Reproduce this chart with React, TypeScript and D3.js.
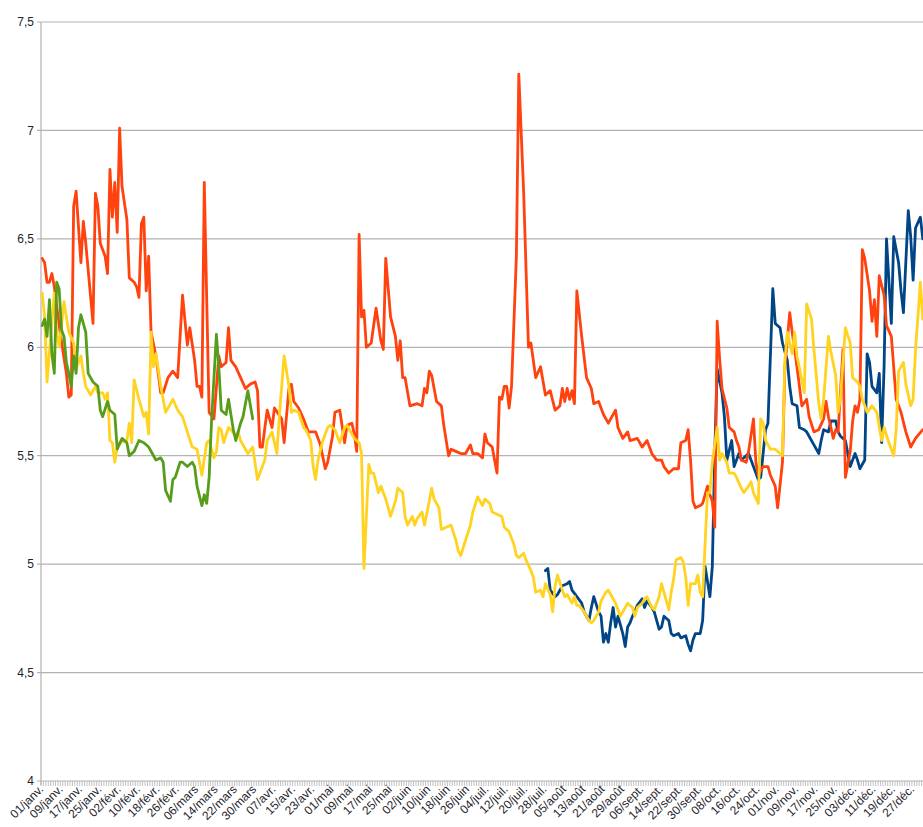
import React from "react";
import * as d3 from "d3";

const width = 923;
const height = 827;
// plot box in page pixels (the svg is pinned to the page corner)
const plot = { left: 41, right: 924, top: 22, bottom: 781 };

const year = 2023;
const dayCount = 365;
const labelStep = 8;
const monthNames = ["janv.", "févr.", "mars", "avr.", "mai", "juin", "juil.", "août", "sept.", "oct.", "nov.", "déc."];
const yTicks = [4, 4.5, 5, 5.5, 6, 6.5, 7, 7.5];

// blue series (starts late July)
const blueDays = [208, 209, 210, 212, 213, 215, 217, 218, 219, 221, 223, 224, 226, 227, 228, 230, 231, 232, 233, 234, 235, 236, 237, 238, 240, 241, 242, 243, 244, 245, 246, 248, 249, 250, 252, 253, 255, 256, 257, 259, 260, 261, 263, 264, 266, 267, 268, 269, 270, 272, 273, 274, 276, 277, 278, 279, 281, 282, 283, 285, 286, 288, 289, 292, 294, 296, 297, 299, 300, 302, 303, 305, 306, 308, 309, 310, 312, 313, 315, 316, 317, 319, 321, 322, 323, 325, 326, 328, 329, 330, 332, 333, 334, 336, 337, 338, 340, 341, 342, 343, 345, 346, 347, 348, 349, 351, 352, 354, 355, 356, 358, 359, 360, 361, 363, 364];
const blueValues = [4.97, 4.98, 4.88, 4.85, 4.86, 4.9, 4.91, 4.92, 4.88, 4.85, 4.82, 4.78, 4.74, 4.8, 4.85, 4.78, 4.76, 4.64, 4.68, 4.64, 4.73, 4.8, 4.71, 4.76, 4.68, 4.62, 4.71, 4.73, 4.76, 4.78, 4.81, 4.84, 4.8, 4.83, 4.8, 4.78, 4.7, 4.71, 4.76, 4.74, 4.68, 4.67, 4.68, 4.66, 4.67, 4.63, 4.6, 4.65, 4.68, 4.68, 4.74, 4.99, 4.85, 4.99, 5.51, 5.9, 5.79, 5.68, 5.48, 5.57, 5.45, 5.51, 5.48, 5.51, 5.45, 5.39, 5.4, 5.62, 5.65, 6.27, 6.11, 6.09, 6.02, 5.94, 5.82, 5.74, 5.73, 5.63, 5.62, 5.61, 5.59, 5.55, 5.51, 5.57, 5.62, 5.61, 5.66, 5.66, 5.61, 5.59, 5.57, 5.51, 5.45, 5.51, 5.48, 5.44, 5.48, 5.97, 5.93, 5.82, 5.79, 5.88, 5.56, 5.91, 6.5, 6.11, 6.51, 6.39, 6.26, 6.16, 6.63, 6.51, 6.31, 6.55, 6.6, 6.5];

// orange series (whole year)
const orangeDays = [0, 1, 2, 3, 4, 5, 7, 9, 10, 11, 12, 13, 14, 16, 17, 18, 21, 22, 23, 24, 26, 27, 28, 29, 30, 31, 32, 33, 35, 36, 38, 39, 40, 41, 42, 43, 44, 45, 47, 49, 50, 52, 54, 56, 58, 60, 61, 63, 64, 65, 66, 67, 68, 69, 71, 73, 74, 76, 77, 78, 80, 82, 84, 86, 88, 89, 90, 91, 93, 95, 96, 99, 100, 102, 103, 104, 106, 108, 110, 113, 115, 117, 118, 120, 121, 123, 125, 126, 128, 129, 130, 131, 132, 133, 134, 136, 138, 140, 141, 142, 144, 146, 147, 148, 149, 150, 152, 155, 157, 158, 159, 160, 161, 163, 165, 166, 168, 169, 171, 173, 175, 177, 178, 180, 182, 183, 184, 186, 188, 189, 190, 191, 192, 193, 194, 196, 197, 199, 201, 202, 204, 206, 208, 210, 212, 214, 215, 216, 217, 218, 219, 220, 221, 223, 225, 227, 228, 230, 232, 234, 237, 238, 240, 242, 243, 246, 248, 250, 252, 254, 256, 257, 259, 261, 263, 264, 266, 267, 268, 269, 270, 272, 273, 275, 276, 277, 278, 279, 280, 281, 283, 284, 286, 287, 288, 289, 291, 292, 294, 295, 296, 298, 300, 301, 303, 304, 306, 307, 309, 310, 312, 313, 314, 316, 317, 319, 321, 323, 324, 325, 327, 328, 329, 331, 332, 334, 335, 336, 337, 338, 339, 340, 342, 343, 344, 345, 346, 348, 349, 351, 353, 355, 357, 359, 361, 364];
const orangeValues = [6.41, 6.39, 6.3, 6.3, 6.34, 6.28, 6.1, 5.95, 5.88, 5.77, 5.78, 6.65, 6.72, 6.39, 6.58, 6.48, 6.11, 6.71, 6.65, 6.48, 6.42, 6.34, 6.82, 6.6, 6.76, 6.53, 7.01, 6.74, 6.59, 6.32, 6.3, 6.28, 6.23, 6.57, 6.6, 6.26, 6.42, 6.07, 5.96, 5.79, 5.79, 5.86, 5.89, 5.86, 6.24, 6.01, 6.09, 5.94, 5.82, 5.82, 5.77, 6.76, 6.22, 5.7, 5.67, 5.96, 5.91, 5.93, 6.09, 5.94, 5.91, 5.86, 5.81, 5.83, 5.84, 5.8, 5.54, 5.54, 5.71, 5.63, 5.72, 5.67, 5.56, 5.81, 5.83, 5.75, 5.72, 5.67, 5.61, 5.61, 5.55, 5.44, 5.47, 5.59, 5.7, 5.71, 5.56, 5.64, 5.65, 5.6, 5.52, 6.52, 6.14, 6.17, 6.0, 6.02, 6.18, 6.03, 5.99, 6.41, 6.14, 6.05, 5.94, 6.03, 5.86, 5.86, 5.73, 5.74, 5.73, 5.81, 5.79, 5.89, 5.87, 5.75, 5.73, 5.64, 5.5, 5.53, 5.52, 5.51, 5.51, 5.55, 5.51, 5.51, 5.49, 5.6, 5.56, 5.54, 5.42, 5.77, 5.76, 5.82, 5.82, 5.72, 5.82, 6.42, 7.26, 6.72, 6.0, 6.02, 5.86, 5.91, 5.78, 5.8, 5.71, 5.73, 5.81, 5.75, 5.81, 5.76, 5.8, 5.74, 6.26, 6.05, 5.86, 5.81, 5.74, 5.75, 5.69, 5.65, 5.71, 5.63, 5.58, 5.61, 5.57, 5.58, 5.54, 5.57, 5.51, 5.48, 5.48, 5.45, 5.42, 5.44, 5.44, 5.56, 5.57, 5.62, 5.48, 5.29, 5.26, 5.27, 5.28, 5.36, 5.32, 5.29, 5.17, 6.12, 5.95, 5.81, 5.72, 5.63, 5.61, 5.57, 5.54, 5.48, 5.47, 5.52, 5.67, 5.47, 5.41, 5.45, 5.45, 5.41, 5.36, 5.26, 5.47, 5.91, 6.16, 6.07, 5.91, 5.82, 5.73, 5.76, 5.68, 5.61, 5.62, 5.67, 5.75, 5.68, 5.58, 5.62, 5.61, 5.99, 5.4, 5.52, 5.66, 5.73, 5.7, 5.76, 6.45, 6.41, 6.26, 6.12, 6.22, 6.05, 6.33, 6.24, 6.1, 6.05, 5.76, 5.7, 5.61, 5.54, 5.58, 5.62];

// yellow series (whole year)
const yellowDays = [0, 1, 2, 4, 5, 6, 7, 9, 10, 11, 13, 14, 16, 17, 18, 20, 22, 23, 25, 26, 27, 28, 29, 30, 31, 32, 35, 36, 37, 38, 40, 42, 43, 44, 45, 46, 47, 49, 51, 54, 56, 58, 60, 62, 64, 66, 68, 69, 71, 72, 73, 74, 75, 77, 78, 80, 81, 82, 85, 87, 89, 90, 92, 93, 95, 96, 97, 98, 100, 102, 103, 104, 106, 108, 109, 111, 112, 113, 114, 116, 118, 119, 121, 123, 125, 126, 129, 131, 132, 133, 135, 136, 137, 139, 140, 142, 144, 146, 147, 149, 150, 151, 153, 154, 155, 157, 158, 160, 161, 162, 164, 165, 167, 169, 171, 172, 173, 175, 177, 178, 180, 182, 183, 185, 186, 188, 190, 191, 193, 195, 196, 197, 199, 200, 202, 203, 204, 206, 207, 208, 210, 211, 212, 213, 215, 216, 217, 219, 220, 221, 222, 224, 226, 227, 228, 230, 231, 233, 234, 235, 237, 238, 239, 241, 242, 244, 245, 246, 248, 249, 250, 252, 253, 255, 256, 257, 259, 260, 261, 262, 264, 265, 266, 267, 268, 270, 271, 272, 273, 275, 276, 277, 279, 280, 281, 283, 284, 286, 287, 289, 290, 292, 293, 294, 296, 297, 298, 299, 301, 303, 305, 306, 307, 308, 310, 311, 312, 314, 315, 316, 318, 319, 321, 322, 323, 325, 326, 328, 329, 330, 332, 334, 335, 337, 338, 339, 341, 343, 345, 347, 348, 350, 352, 353, 354, 356, 357, 359, 360, 361, 363, 364];
const yellowValues = [6.25, 6.14, 5.84, 6.11, 6.25, 6.07, 6.0, 6.21, 6.14, 6.07, 6.02, 5.9, 5.96, 5.88, 5.82, 5.78, 5.82, 5.79, 5.79, 5.76, 5.79, 5.57, 5.56, 5.47, 5.54, 5.56, 5.57, 5.65, 5.56, 5.85, 5.76, 5.68, 5.7, 5.6, 6.07, 5.91, 5.97, 5.82, 5.7, 5.76, 5.71, 5.68, 5.61, 5.54, 5.53, 5.41, 5.56, 5.57, 5.49, 5.52, 5.63, 5.62, 5.56, 5.63, 5.62, 5.59, 5.61, 5.57, 5.51, 5.54, 5.39, 5.42, 5.48, 5.57, 5.61, 5.56, 5.51, 5.68, 5.96, 5.82, 5.7, 5.71, 5.7, 5.63, 5.62, 5.57, 5.45, 5.39, 5.48, 5.57, 5.63, 5.64, 5.62, 5.56, 5.63, 5.64, 5.58, 5.56, 5.51, 4.98, 5.46, 5.42, 5.42, 5.33, 5.36, 5.3, 5.22, 5.29, 5.35, 5.33, 5.22, 5.18, 5.22, 5.18, 5.21, 5.24, 5.18, 5.29, 5.35, 5.3, 5.26, 5.16, 5.17, 5.18, 5.11, 5.06, 5.04, 5.11, 5.18, 5.24, 5.31, 5.27, 5.3, 5.28, 5.24, 5.23, 5.22, 5.17, 5.15, 5.09, 5.04, 5.03, 5.05, 5.02, 4.97, 4.94, 4.87, 4.88, 4.85, 4.91, 4.86, 4.78, 4.9, 4.95, 4.88, 4.85, 4.86, 4.82, 4.85, 4.81, 4.81, 4.78, 4.74, 4.73, 4.74, 4.78, 4.83, 4.87, 4.88, 4.86, 4.82, 4.79, 4.76, 4.8, 4.82, 4.8, 4.76, 4.8, 4.82, 4.84, 4.85, 4.8, 4.79, 4.85, 4.91, 4.87, 4.79, 4.87, 4.93, 5.02, 5.03, 5.01, 4.94, 4.81, 4.91, 4.91, 4.95, 4.87, 4.85, 5.33, 5.33, 5.47, 5.63, 5.48, 5.51, 5.47, 5.42, 5.42, 5.4, 5.35, 5.33, 5.36, 5.38, 5.33, 5.28, 5.67, 5.65, 5.57, 5.53, 5.53, 5.51, 5.5, 5.94, 6.07, 5.97, 6.07, 5.96, 5.85, 5.79, 6.2, 6.13, 5.99, 5.74, 5.67, 5.76, 6.05, 5.98, 5.87, 5.7, 5.77, 6.09, 6.02, 5.86, 5.84, 5.82, 5.76, 5.7, 5.73, 5.7, 5.57, 5.63, 5.56, 5.5, 5.62, 5.89, 5.93, 5.83, 5.73, 5.76, 5.99, 6.3, 6.13];

// green series (January to end of March)
const greenDays = [0, 1, 2, 3, 4, 5, 6, 7, 8, 9, 10, 11, 12, 13, 14, 15, 16, 18, 19, 21, 23, 24, 25, 27, 28, 30, 31, 33, 35, 36, 38, 40, 42, 44, 47, 49, 50, 51, 53, 54, 55, 57, 58, 60, 62, 63, 64, 66, 67, 68, 69, 70, 72, 73, 74, 76, 77, 79, 80, 82, 83, 85, 87];
const greenValues = [6.1, 6.13, 6.05, 6.22, 5.97, 5.88, 6.3, 6.27, 6.08, 6.05, 5.93, 5.88, 5.82, 5.96, 5.88, 6.09, 6.15, 6.07, 5.88, 5.84, 5.82, 5.71, 5.68, 5.75, 5.71, 5.69, 5.53, 5.58, 5.56, 5.5, 5.52, 5.57, 5.56, 5.54, 5.48, 5.49, 5.47, 5.34, 5.29, 5.39, 5.4, 5.47, 5.47, 5.45, 5.47, 5.45, 5.36, 5.27, 5.32, 5.28, 5.4, 5.66, 6.06, 5.91, 5.71, 5.69, 5.76, 5.62, 5.57, 5.65, 5.68, 5.8, 5.67];

// drawn in this order: blue under, green on top
const series = [
  { key: "blue", color: "#004586", days: blueDays, values: blueValues },
  { key: "orange", color: "#ff420e", days: orangeDays, values: orangeValues },
  { key: "yellow", color: "#ffd320", days: yellowDays, values: yellowValues },
  { key: "green", color: "#579d1c", days: greenDays, values: greenValues },
];

function dayLabel(d: number) {
  const date = d3.timeDay.offset(new Date(year, 0, 1), d);
  return `${d3.timeFormat("%d")(date)}/${monthNames[date.getMonth()]}`;
}

export default function App() {
  const days = d3.range(dayCount);

  const x = d3.scaleBand<number>().domain(days).range([plot.left, plot.right]).padding(0);
  const y = d3.scaleLinear().domain([4, 7.5]).range([plot.bottom, plot.top]);
  const cx = (d: number) => (x(d) as number) + x.bandwidth() / 2;

  const line = d3
    .line<[number, number]>()
    .x((p) => cx(p[0]))
    .y((p) => y(p[1]));

  const labelDays = days.filter((d) => d % labelStep === 0);

  return (
    <svg
      width={width}
      height={height}
      style={{ position: "absolute", left: 0, top: 0, background: "#fff" }}
      fontFamily="Liberation Sans, Arial, sans-serif"
    >
      {/* horizontal grid */}
      {yTicks.map((t) => (
        <g key={t}>
          <line x1={plot.left - 4} x2={width} y1={y(t)} y2={y(t)} stroke="#b3b3b3" strokeWidth={1.2} />
          <text x={plot.left - 7} y={y(t)} dy="0.35em" textAnchor="end" fontSize={12} fill="#1f1f2e">
            {String(t).replace(".", ",")}
          </text>
        </g>
      ))}

      {/* y axis line */}
      <line x1={plot.left} x2={plot.left} y1={plot.top} y2={plot.bottom + 4} stroke="#b3b3b3" strokeWidth={1.2} />

      {/* daily minor ticks on the x axis */}
      {days.map((d) => (
        <line key={d} x1={x(d)} x2={x(d)} y1={plot.bottom} y2={plot.bottom + 5} stroke="#b3b3b3" strokeWidth={0.8} />
      ))}

      {/* series */}
      {series.map((s) => (
        <path
          key={s.key}
          d={line(s.days.map((d, i) => [d, s.values[i]] as [number, number])) || ""}
          fill="none"
          stroke={s.color}
          strokeWidth={2.8}
          strokeLinejoin="round"
          strokeLinecap="round"
        />
      ))}

      {/* x labels */}
      {labelDays.map((d) => (
        <text
          key={d}
          transform={`translate(${cx(d) + 2},${plot.bottom + 9}) rotate(-45)`}
          textAnchor="end"
          fontSize={12}
          fill="#1f1f2e"
        >
          {dayLabel(d)}
        </text>
      ))}
    </svg>
  );
}
